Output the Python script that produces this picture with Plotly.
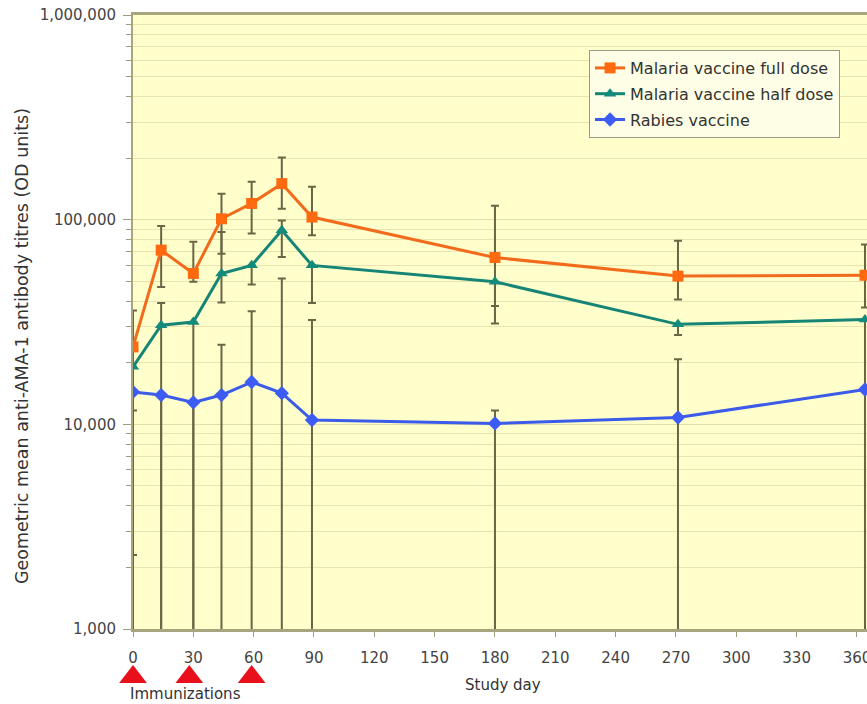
import plotly.graph_objects as go

# ---- data ----
days = [0, 14, 30, 44, 59, 74, 89, 180, 271, 364]

full_dose = [23900, 71000, 54600, 101000, 120000, 150000, 103000, 65300, 53000, 53500]
full_upper = [36000, 93000, 78000, 134000, 153000, 201000, 145000, 117000, 78800, 75600]
full_lower = [11700, 46900, 49700, 68200, 85500, 113000, 84000, 37900, 40700, 37200]

half_dose = [19100, 30500, 31600, 54600, 59800, 88700, 59800, 49700, 30800, 32500]
half_upper = [19100, 39200, 31600, 87000, 59800, 99000, 59800, 49700, 30800, 32500]
half_lower = [2300, 100, 100, 39400, 48200, 65700, 39200, 31100, 27300, 100]

rabies = [14400, 13900, 12800, 13900, 16100, 14200, 10500, 10100, 10800, 14800]
rabies_upper = [14400, 13900, 12800, 24500, 35700, 51600, 32300, 11700, 20800, 14800]
rabies_lower = [100, 100, 100, 100, 100, 100, 100, 100, 100, 100]

immunization_days = [0, 28, 59]

x_ticks = list(range(0, 361, 30))
y_tickvals = [1000, 10000, 100000, 1000000]
y_ticktext = ["1,000", "10,000", "100,000", "1,000,000"]

series = [
    ("Malaria vaccine full dose", full_dose, full_upper, full_lower, "#ff6a10", "#f26a1b", "square"),
    ("Malaria vaccine half dose", half_dose, half_upper, half_lower, "#128a7c", "#168576", "triangle-up"),
    ("Rabies vaccine", rabies, rabies_upper, rabies_lower, "#3d5cf5", "#3b5be8", "diamond"),
]

FONT = "DejaVu Sans, Arial, sans-serif"
ERR_COLOR = "#6a6545"
MAIN_BOTTOM = 0.10885  # main plot domain bottom (lower strip holds immunization marks)

fig = go.Figure()

# error bars first (underneath lines)
for name, vals, up, lo, mcol, lcol, sym in series:
    fig.add_trace(go.Scatter(
        x=days, y=vals, mode="markers",
        marker=dict(size=1, opacity=0),
        error_y=dict(type="data", symmetric=False,
                     array=[u - v for u, v in zip(up, vals)],
                     arrayminus=[v - l for v, l in zip(vals, lo)],
                     color=ERR_COLOR, thickness=2, width=4),
        showlegend=False, hoverinfo="skip"))

for i, (name, vals, up, lo, mcol, lcol, sym) in enumerate(series):
    fig.add_trace(go.Scatter(
        x=days, y=vals, mode="lines+markers", name=name,
        legendgroup=f"g{i}",
        line=dict(color=lcol, width=3),
        marker=dict(symbol=sym, size=11, color=mcol)))

# immunization markers in the strip under the axis
fig.add_trace(go.Scatter(
    x=immunization_days, y=[0.36] * len(immunization_days), mode="markers",
    xaxis="x2", yaxis="y2",
    marker=dict(symbol="triangle-up", size=24, color="#e8101a"),
    cliponaxis=False, showlegend=False, hoverinfo="skip"))

fig.update_layout(
    width=867, height=704,
    margin=dict(l=133, r=0, t=15, b=0),
    paper_bgcolor="white",
    plot_bgcolor="rgba(0,0,0,0)",
    font=dict(family=FONT, size=15, color="#333333"),
    showlegend=True,
    legend=dict(x=0.6213, y=0.9492, xanchor="left", yanchor="top",
                bgcolor="#fefee6", bordercolor="#9a9a8a", borderwidth=1,
                font=dict(family=FONT, size=16, color="#333333"),
                itemwidth=30, tracegroupgap=2, traceorder="grouped"),
    xaxis=dict(domain=[0, 1], anchor="y", range=[0, 365], tickvals=x_ticks,
               ticks="outside", ticklen=5, automargin=False,
               tickcolor="#a09c78", showgrid=False, zeroline=False,
               showline=True, linecolor="#a8a47e", linewidth=3, mirror=True,
               tickfont=dict(size=15, color="#444444"), ticklabelstandoff=8,
               ticklabeloverflow="allow"),
    yaxis=dict(domain=[MAIN_BOTTOM, 1], anchor="x", type="log", range=[3, 6],
               tickvals=y_tickvals, ticktext=y_ticktext, automargin=False,
               ticks="outside", ticklen=8, tickcolor="#a09c78",
               showgrid=True, gridcolor="#e2dea6", gridwidth=1,
               zeroline=False, showline=True, linecolor="#a8a47e", linewidth=2,
               tickfont=dict(size=15, color="#444444"), ticklabelstandoff=4,
               minor=dict(dtick="D1", ticks="outside", ticklen=5, tickcolor="#a09c78",
                          showgrid=True, gridcolor="#e8e4b0", gridwidth=1)),
    xaxis2=dict(matches="x", anchor="y2", visible=False, automargin=False),
    yaxis2=dict(domain=[0, MAIN_BOTTOM], anchor="x2", range=[0, 1], visible=False,
                automargin=False),
    shapes=[dict(type="rect", xref="x domain", yref="y domain", x0=0, x1=1, y0=0, y1=1,
                 fillcolor="#ffffcc", line=dict(width=0), layer="below")],
    annotations=[
        dict(text="Geometric mean anti-AMA-1 antibody titres (OD units)",
             textangle=-90, xref="paper", yref="paper", x=-0.1512, y=0.5196,
             xanchor="center", yanchor="middle", showarrow=False,
             font=dict(size=17.5, color="#333333")),
        dict(text="Study day", xref="x", yref="paper", x=184, y=0.0276,
             xanchor="center", yanchor="middle", showarrow=False,
             font=dict(size=15, color="#333333")),
        dict(text="Immunizations", xref="paper", yref="paper", x=-0.0068, y=0.0145,
             xanchor="left", yanchor="middle", showarrow=False,
             font=dict(size=15, color="#333333")),
    ],
)

fig.write_html("out.html", config={"displayModeBar": False},
               post_script="document.body.style.margin='0';")
